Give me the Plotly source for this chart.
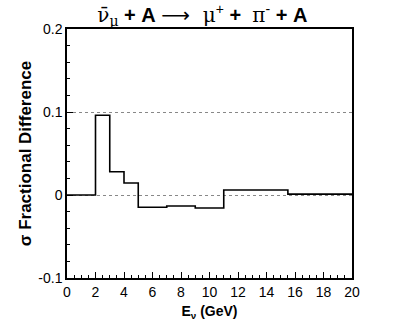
import plotly.graph_objects as go

# bin edges in E_nu (GeV) and the fractional difference in each bin
bin_edges = [0, 2, 3, 4, 5, 7, 9, 11, 15.5, 20]
frac_diff = [0.0, 0.096, 0.028, 0.0145, -0.0148, -0.0133, -0.0157, 0.006, 0.001]

xs = bin_edges
ys = frac_diff + [frac_diff[-1]]

fig = go.Figure()
fig.add_trace(go.Scatter(
    x=xs, y=ys, mode="lines", line_shape="hv",
    line=dict(color="black", width=1.6),
    showlegend=False, hoverinfo="skip"
))

sym = "font-family:'DejaVu Serif', 'Liberation Serif', serif; font-weight:normal"
arr = "font-family:'DejaVu Sans', sans-serif; font-weight:normal"
sp = "&nbsp;"
title_txt = (
    f"<span style=\"{sym}\">ν\u0304<sub>μ</sub></span> <b>+ A</b>{sp}"
    f"<span style=\"{arr}\">⟶</span>"
    f"<span style=\"{sym}\">{sp}{sp}μ</span><sup>+</sup> <b>+</b>{sp}{sp}"
    f"<span style=\"{sym}\">π</span><sup>-</sup> <b>+ A</b>"
)

fig.update_layout(
    width=407, height=328,
    margin=dict(l=67, r=55, t=29, b=50),
    paper_bgcolor="white", plot_bgcolor="white",
    font=dict(family="Liberation Sans, Arial, sans-serif", size=14, color="black"),
    title=dict(text=title_txt, x=0.497, xref="container", xanchor="center",
               y=1, yref="paper", yanchor="bottom", pad=dict(b=7),
               font=dict(size=20, color="black")),
)

fig.update_xaxes(
    range=[0, 20], dtick=2, tick0=0, automargin=False,
    showline=True, linecolor="black", linewidth=1.5, mirror=True,
    ticks="inside", ticklen=6, tickcolor="black", tickwidth=1,
    minor=dict(ticks="inside", dtick=0.5, ticklen=3, tickcolor="black"),
    showgrid=False, zeroline=False,
    title=dict(text="<b>E<sub>ν</sub> (GeV)</b>", font=dict(size=14), standoff=8),
)

fig.update_yaxes(
    range=[-0.1, 0.2], dtick=0.1, tick0=0, automargin=False,
    showline=True, linecolor="black", linewidth=1.5, mirror=True,
    ticks="inside", ticklen=6, tickcolor="black", tickwidth=1,
    minor=dict(ticks="inside", dtick=0.02, ticklen=3, tickcolor="black", showgrid=False),
    showgrid=True, gridcolor="#888888", griddash="dot", gridwidth=1,
    zeroline=False,
    tickvals=[-0.1, 0, 0.1, 0.2], ticktext=["-0.1", "0", "0.1", "0.2"],
    title=dict(text="<b>σ Fractional Difference</b>", font=dict(size=17), standoff=2),
)

# drop the browser's default body margin so the figure sits at the page corner
fig.write_html("out.html", config={"displayModeBar": False},
               post_script="document.body.style.margin='0';")
